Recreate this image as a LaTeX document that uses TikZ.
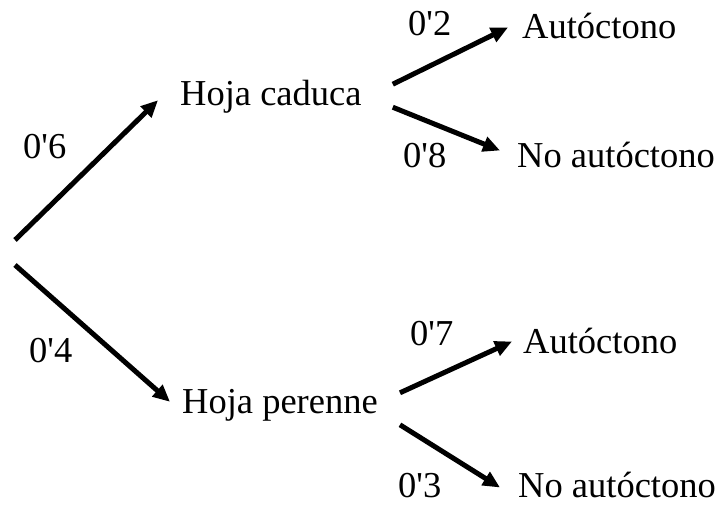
\documentclass[tikz,border=0pt]{standalone}
\usepackage{fontspec}
\newfontfamily\treefont{Liberation Serif}
\usetikzlibrary{arrows.meta}
\tikzset{>={Triangle[length=17pt,width=15pt]}}

\begin{document}
\begin{tikzpicture}[x=1pt,y=-1pt,
  every node/.style={inner sep=0pt,anchor=base west,font=\treefont\fontsize{36.5}{40}\selectfont},
  branch/.style={->,line width=5pt}]
\useasboundingbox (0,0) rectangle (718,504);
% root
\coordinate (r1) at (15,240);
\coordinate (r2) at (15,265);
% first level
\node (cad) at (180,105) {Hoja caduca};
\node (per) at (182,413) {Hoja perenne};
% second level
\node (a1) at (522,38) {Autóctono};
\node (n1) at (517,167) {No autóctono};
\node (a2) at (523,353) {Autóctono};
\node (n2) at (518,497) {No autóctono};
% probabilities
\foreach \x/\y/\name/\p in {23/158/p1/6,29/362/p2/4,408/35/p3/2,403/167/p4/8,410/345/p5/7,398/497/p6/3}
  \node (\name) at (\x,\y) {0'\p};
\draw[branch] (r1) -- ([shift={(-22,4)}]cad.west);
\draw[branch] (r2) -- ([shift={(-12,-3)}]per.west);
\draw[branch] ([shift={(31,-12)}]cad.east) -- ([shift={(-14,2)}]a1.west);
\draw[branch] ([shift={(31,11)}]cad.east) -- ([shift={(-17,-4)}]n1.west);
\draw[branch] ([shift={(22,-12)}]per.east) -- ([shift={(-11,1)}]a2.west);
\draw[branch] ([shift={(22,20)}]per.east) -- ([shift={(-18,3)}]n2.west);
\end{tikzpicture}
\end{document}
